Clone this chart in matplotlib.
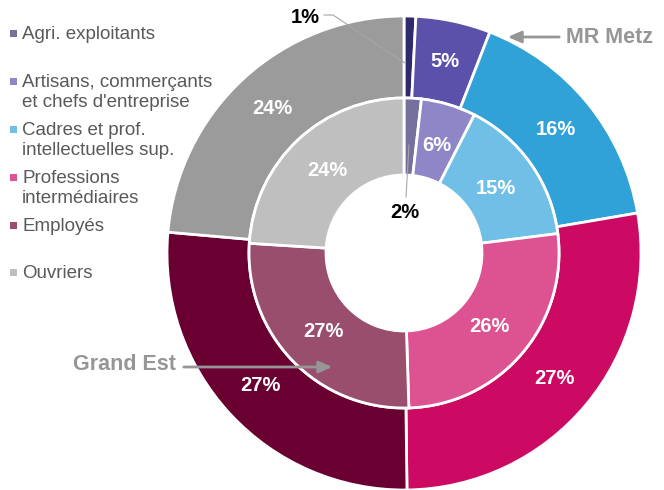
import matplotlib
matplotlib.use("Agg")
import matplotlib.pyplot as plt
import numpy as np

plt.rcParams['font.family'] = ['Liberation Sans', 'DejaVu Sans']

categories = ["Agri. exploitants", "Artisans, commerçants\net chefs d'entreprise",
              "Cadres et prof.\nintellectuelles sup.", "Professions\nintermédiaires",
              "Employés", "Ouvriers"]
metz_values = [0.8, 5.1, 16.4, 27.5, 26.6, 23.6]
metz_labels = ["1%", "5%", "16%", "27%", "27%", "24%"]
ge_values = [1.8, 5.7, 15.5, 26.5, 26.5, 24.0]
ge_labels = ["2%", "6%", "15%", "26%", "27%", "24%"]

outer_colors = ["#2F2A6B", "#5A51AA", "#31A2D8", "#CC0A64", "#6A0032", "#9B9B9B"]
inner_colors = ["#76719C", "#8E86C6", "#70BFE6", "#DD5291", "#9A4E6E", "#BFBFBF"]

W, H = 664, 490
U = 237.0
cx, cy = 404, 490 - 253

fig = plt.figure(figsize=(W / 100, H / 100), dpi=100)
ax = fig.add_axes([0, 0, 1, 1])

def px(x, y):
    return ((x - cx) / U, ((H - y) - cy) / U)

r_out = 1.0
r_mid = 155 / U
r_in = 78 / U

ax.pie(metz_values, radius=r_out, colors=outer_colors, startangle=90, counterclock=False,
       wedgeprops=dict(width=r_out - r_mid, edgecolor="white", linewidth=2))
ax.pie(ge_values, radius=r_mid, colors=inner_colors, startangle=90, counterclock=False,
       wedgeprops=dict(width=r_mid - r_in, edgecolor="white", linewidth=2))

ax.set_xlim(-cx / U, (W - cx) / U)
ax.set_ylim(-cy / U, (H - cy) / U)
ax.set_aspect("equal")
ax.axis("off")

def mid_angles(vals):
    tot = sum(vals)
    cum = np.cumsum([0] + list(vals))
    res = []
    for i in range(len(vals)):
        frac = (cum[i] + cum[i + 1]) / 2 / tot
        res.append(np.deg2rad(90 - 360 * frac))
    return res

r_lab_out = 0.825
for i, a in enumerate(mid_angles(metz_values)):
    if i == 0:
        continue
    ax.text(r_lab_out * np.cos(a), r_lab_out * np.sin(a), metz_labels[i], color="white",
            fontsize=14.5, fontweight="bold", ha="center", va="center")
r_lab_in = 0.475
for i, a in enumerate(mid_angles(ge_values)):
    if i == 0:
        continue
    ax.text(r_lab_in * np.cos(a), r_lab_in * np.sin(a), ge_labels[i], color="white",
            fontsize=14.5, fontweight="bold", ha="center", va="center")

# 1% outer label with leader
x, y = px(305, 17)
ax.text(x, y, metz_labels[0], color="black", fontsize=14.5, fontweight="bold", ha="center", va="center")
pts = [px(324, 15), px(333, 15), px(405, 63)]
ax.plot([p[0] for p in pts], [p[1] for p in pts], color="#A6A6A6", lw=0.8)

# 2% inner label with leader
x, y = px(405, 212)
ax.text(x, y, ge_labels[0], color="black", fontsize=14.5, fontweight="bold", ha="center", va="center")
p1, p2 = px(409, 145), px(406, 197)
ax.plot([p1[0], p2[0]], [p1[1], p2[1]], color="#A6A6A6", lw=0.8)

# Annotations
ax.annotate("", xy=px(505, 37), xytext=px(562, 37),
            arrowprops=dict(arrowstyle="-|>,head_width=0.35,head_length=0.8", color="#969696", lw=2))
x, y = px(609, 37)
ax.text(x, y, "MR Metz", color="#969696", fontsize=15.5, fontweight="bold", ha="center", va="center")

ax.annotate("", xy=px(335, 367), xytext=px(181, 367),
            arrowprops=dict(arrowstyle="-|>,head_width=0.35,head_length=0.8", color="#969696", lw=2))
x, y = px(124, 364)
ax.text(x, y, "Grand Est", color="#969696", fontsize=15.5, fontweight="bold", ha="center", va="center")

# Legend (manual)
leg_y = [33, 81, 129, 177, 225, 272]
for i, (lab, yy) in enumerate(zip(categories, leg_y)):
    sx, sy = px(13, yy)
    ax.add_patch(plt.Rectangle((sx - 3.5 / U, sy - 3.5 / U), 7 / U, 7 / U,
                               facecolor=inner_colors[i], edgecolor="none"))
    tx, ty = px(22, yy - 7)
    ax.text(tx, ty, lab, color="#595959", fontsize=13.5, ha="left", va="top",
            linespacing=1.2)

fig.savefig("out.png", dpi=100)
